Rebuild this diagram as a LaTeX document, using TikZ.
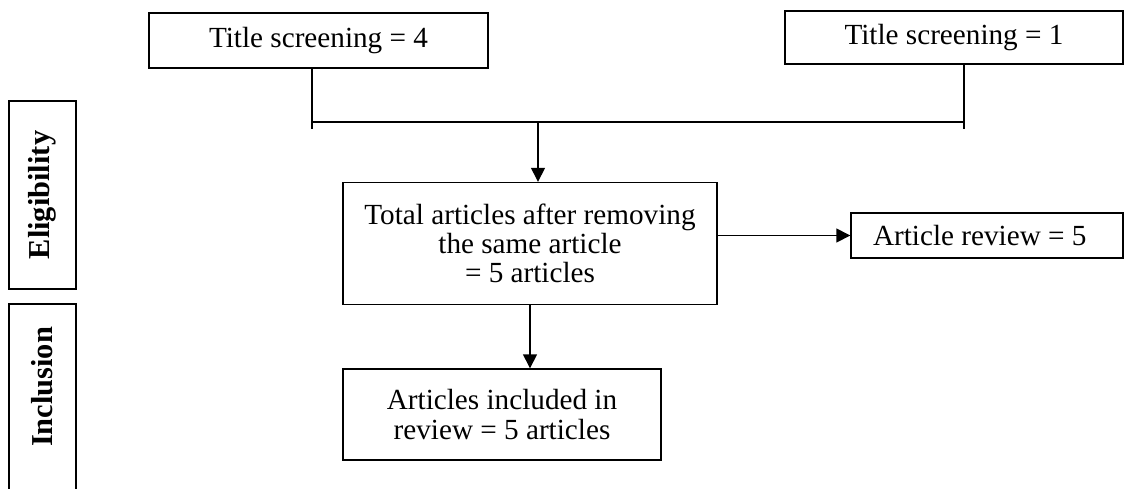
\documentclass[tikz,border=0pt]{standalone}
\usepackage{fontspec}
\setmainfont{Liberation Serif}
\usetikzlibrary{arrows.meta}
\tikzset{>={Triangle[length=7pt,width=7pt]}}
\tikzset{
  box/.style={draw, line width=0.7pt, align=center, inner sep=2pt,
    font=\fontsize{14.6}{14.6}\selectfont},
  side/.style={draw, line width=0.7pt, rotate=90, minimum height=33.5pt,
    font=\fontsize{15.2}{15}\selectfont\bfseries}
}

\begin{document}
\begin{tikzpicture}[x=0.5pt, y=-0.5pt, line width=0.7pt]
  \clip (0,0) rectangle (1144,488);

  % stage boxes on the left
  \node[side, minimum width=94pt] (elig) at (42.5,195) {Eligibility};
  \node[side, minimum width=110pt] (incbox) at (42.5,414) {};
  \node[side, draw=none] (incl) at (42.5,387) {Inclusion};

  % flow boxes
  \node[box, minimum width=169.5pt, minimum height=27.5pt] (t4) at (318.5,40.5) {Title screening = 4};
  \node[box, minimum width=169pt, minimum height=26.5pt] (t1) at (954,37.5) {Title screening = 1};
  \node[box, minimum width=187pt, minimum height=61pt] (total) at (530,243.5)
    {Total articles after removing\\the same article\\= 5 articles};
  \node[box, align=flush left, text width=114pt, inner xsep=11pt, minimum height=22.5pt] (review) at (987,235.5) {Article review = 5};
  \node[box, minimum width=159pt, minimum height=45.5pt] (included) at (502,414.5)
    {Articles included in\\review = 5 articles};

  \coordinate (lend) at (312,129);
  \coordinate (rend) at (964,129);
  \coordinate (hub) at (538,122);

  % connectors
  \draw (t4.south -| lend) -- (lend);
  \draw (t1.south -| rend) -- (rend);
  \draw (lend |- hub) -- (rend |- hub);
  \draw[->] (hub) -- (hub |- total.north);
  \draw[->] (total.east |- review) -- (review.west);
  \draw[->] (total.south) -- (total.south |- included.north);
\end{tikzpicture}
\end{document}
